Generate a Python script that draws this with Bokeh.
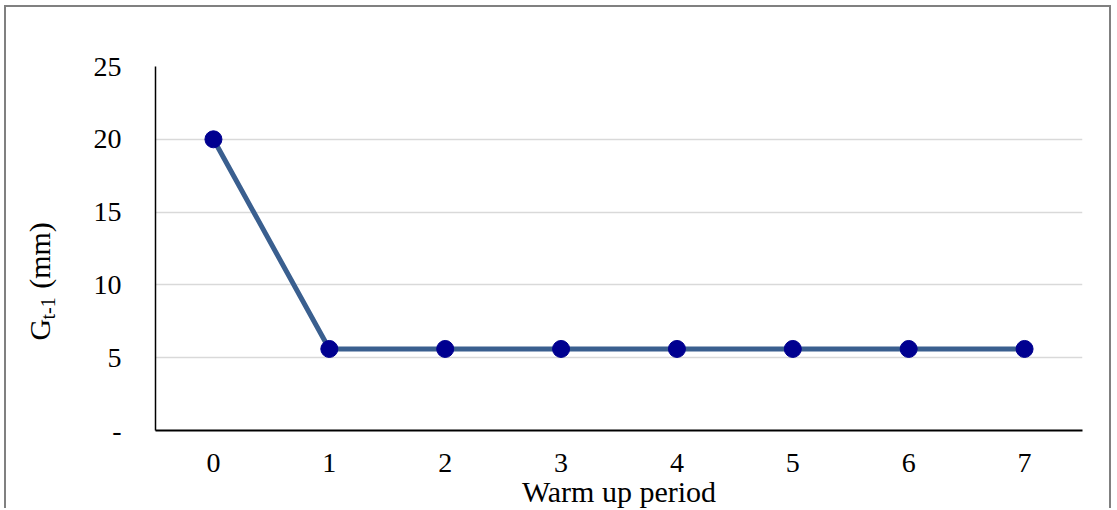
import math
from bokeh.plotting import figure
from bokeh.models import Range1d, FixedTicker, Label
from bokeh.embed import file_html
from bokeh.resources import INLINE

# ---- data ----
periods = [0, 1, 2, 3, 4, 5, 6, 7]
gap_mm = [20.0, 5.6, 5.6, 5.6, 5.6, 5.6, 5.6, 5.6]
y_ticks = [0, 5, 10, 15, 20, 25]
y_tick_labels = {0: "-", 5: "5", 10: "10", 15: "15", 20: "20", 25: "25"}
x_title = "Warm up period"
y_title_main = "G"
y_title_sub = "t-1"
y_title_unit = "(mm)"

FONT = "Liberation Serif"
NBSP = "\u00a0"

p = figure(width=1107, height=503, output_backend="svg", toolbar_location=None,
           x_range=Range1d(-0.5, 7.5), y_range=Range1d(0, 25),
           min_border_left=149, min_border_right=31, min_border_top=59, min_border_bottom=79)
p.styles = {"border-top": "2px solid #808080", "border-left": "2px solid #808080",
            "border-right": "2px solid #808080", "margin-left": "4px", "margin-top": "5px"}
p.outline_line_color = None
p.background_fill_color = "white"
p.border_fill_color = "white"

# axes
p.xaxis.ticker = FixedTicker(ticks=periods)
p.yaxis.ticker = FixedTicker(ticks=y_ticks)
p.yaxis.major_label_overrides = y_tick_labels
for ax in (p.xaxis, p.yaxis):
    ax.major_tick_line_color = None
    ax.minor_tick_line_color = None
    ax.axis_line_color = "black"
    ax.major_label_text_font = FONT
    ax.major_label_text_font_size = "28px"
    ax.major_label_text_color = "black"
p.xaxis.axis_line_width = 2
p.yaxis.axis_line_width = 1.5
p.xaxis.major_label_standoff = 17
p.yaxis.major_label_standoff = 28

p.xaxis.axis_label = x_title
p.xaxis.axis_label_text_font = FONT
p.xaxis.axis_label_text_font_size = "30px"
p.xaxis.axis_label_text_font_style = "normal"
p.xaxis.axis_label_text_color = "black"
p.xaxis.axis_label_standoff = 0

p.xgrid.grid_line_color = None
p.ygrid.ticker = FixedTicker(ticks=y_ticks[1:])
p.ygrid.grid_line_color = "#d9d9d9"
p.ygrid.grid_line_width = 1.5

# series
p.line(periods, gap_mm, line_color="#3a5f8f", line_width=5)
p.scatter(periods, gap_mm, size=17, fill_color="#000090", line_color="#000090")

# y axis title with subscript (placed in the left side panel so it is not clipped)
x0 = p.x_range.start
y0 = p.y_range.start
main_text = y_title_main + NBSP * 4 + y_title_unit
p.add_layout(Label(x=x0, y=y0, x_offset=-116, y_offset=90, text=main_text, angle=math.pi / 2,
                   text_font=FONT, text_font_size="30px", text_align="left",
                   text_baseline="alphabetic", text_color="black"), "left")
p.add_layout(Label(x=x0, y=y0, x_offset=-108, y_offset=111, text=y_title_sub, angle=math.pi / 2,
                   text_font=FONT, text_font_size="20px", text_align="left",
                   text_baseline="alphabetic", text_color="black"), "left")

open("out.html", "w").write(file_html(p, INLINE))
